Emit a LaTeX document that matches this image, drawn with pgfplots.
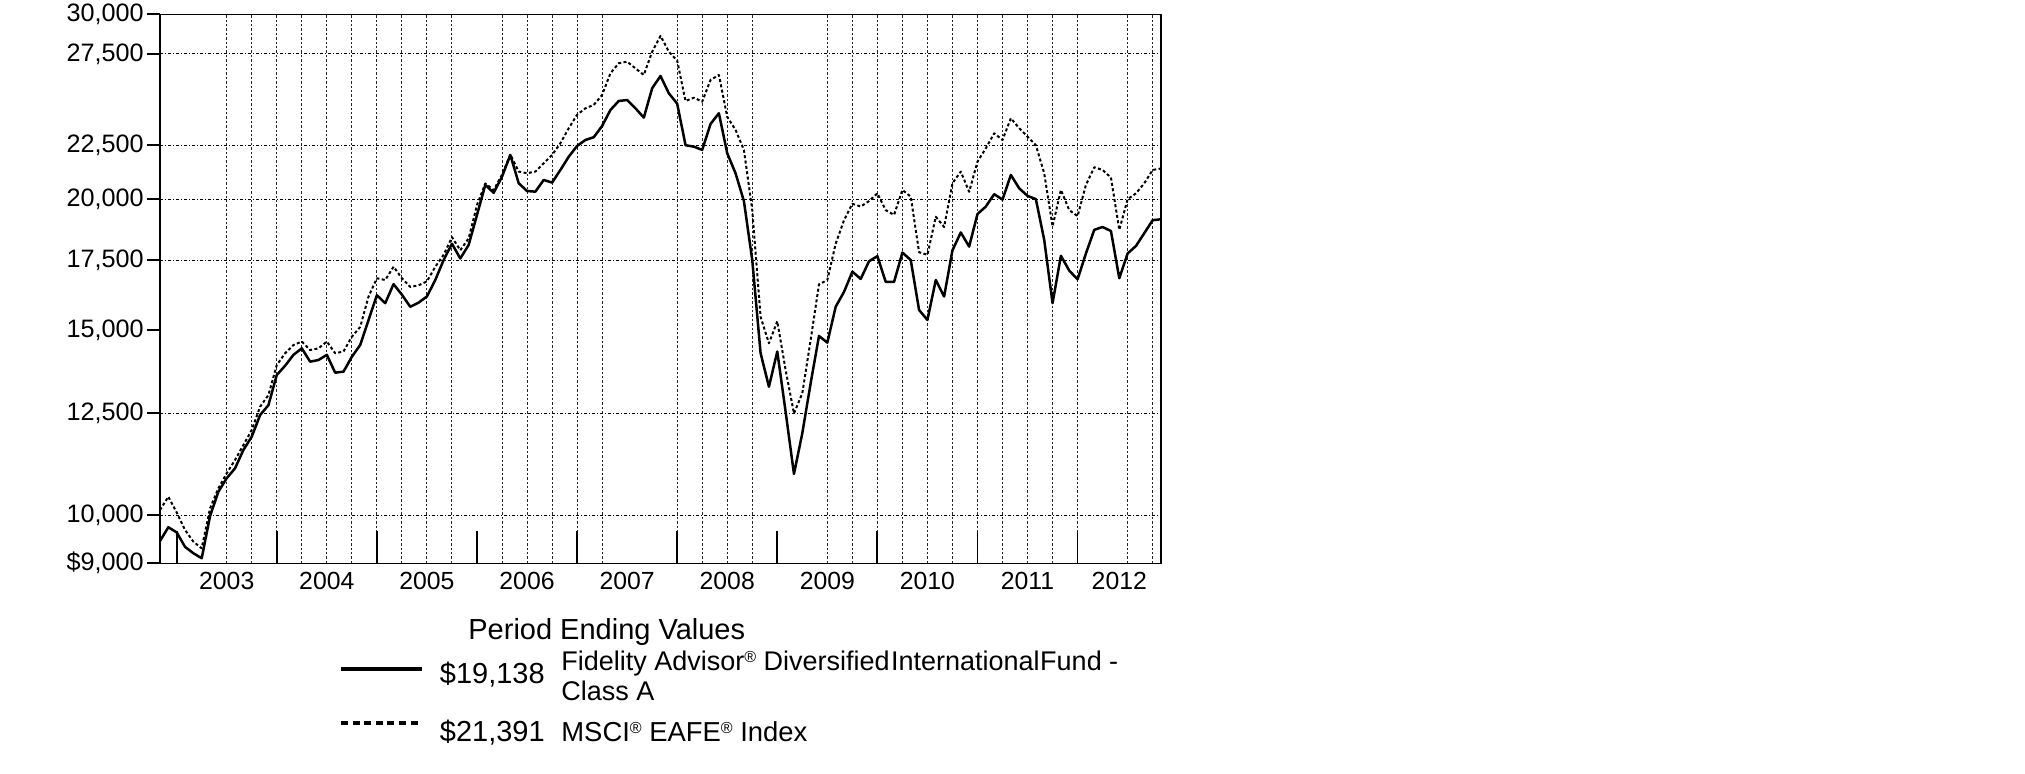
\documentclass[border=0pt]{standalone}
\usepackage{pgfplots}
\pgfplotsset{compat=1.18}
\usepackage{pgfplotstable}
\usepackage{fontspec}
\setmainfont{Liberation Sans}
\newcommand{\reg}{\raisebox{0.55ex}{\fontsize{8}{8}\selectfont ®}}

\pgfplotstableread{
m fund idx
0 9450 10115
1 9740 10415
2 9630 10060
3 9330 9682
4 9200 9436
5 9100 9300
6 9980 10150
7 10530 10610
8 10845 10965
9 11085 11290
10 11540 11665
11 11880 12055
12 12456 12685
13 12730 13016
14 13600 13900
15 13880 14265
16 14215 14525
17 14418 14635
18 14004 14365
19 14055 14418
20 14215 14635
21 13670 14265
22 13700 14320
23 14155 14792
24 14525 15110
25 15345 16155
26 16200 16815
27 15920 16750
28 16600 17245
29 16220 16815
30 15795 16500
31 15940 16555
32 16155 16700
33 16750 17245
34 17500 17700
35 18140 18400
36 17560 17880
37 18090 18355
38 19320 19745
39 20635 20700
40 20280 20400
41 21010 21100
42 22035 22050
43 20710 21245
44 20360 21170
45 20330 21245
46 20860 21640
47 20740 22035
48 21320 22610
49 21950 23365
50 22475 24065
51 22770 24410
52 22910 24590
53 23480 25135
54 24320 26360
55 24805 26945
56 24855 27040
57 24410 26640
58 23915 26260
59 25505 27635
60 26200 28610
61 25225 27635
62 24660 27100
63 22510 24800
64 22440 24980
65 22280 24767
66 23585 25975
67 24145 26260
68 22115 23955
69 21165 23277
70 19915 22280
71 17500 19527
72 14265 15450
73 13255 14580
74 14320 15300
75 12545 13752
76 10947 12500
77 11970 13066
78 13357 14686
79 14815 16590
80 14600 16750
81 15795 18140
82 16320 19100
83 17060 19800
84 16790 19680
85 17455 19915
86 17650 20255
87 16680 19527
88 16680 19320
89 17790 20410
90 17500 20107
91 15684 17805
92 15345 17700
93 16750 19245
94 16155 18815
95 17880 20710
96 18590 21245
97 18025 20325
98 19360 21713
99 19680 22360
100 20220 23105
101 19980 22770
102 21090 23884
103 20480 23365
104 20143 22938
105 20000 22510
106 18290 21165
107 15920 18840
108 17665 20410
109 17100 19527
110 16775 19270
111 17755 20635
112 18700 21450
113 18815 21320
114 18650 20970
115 16815 18700
116 17755 20000
117 18050 20255
118 18565 20710
119 19100 21320
120 19138 21391
}\data

\begin{document}
\begin{tikzpicture}
\path[use as bounding box] (0,0) rectangle (1012.5pt,386.5pt);
\begin{axis}[
  at={(80pt,104.85pt)}, anchor=south west,
  scale only axis, width=500.5pt, height=274.5pt,
  xmin=0, xmax=120,
  ymode=log, ymin=9000, ymax=30000,
  axis line style={line width=0.7pt},
  xtick={8,20,32,44,56,68,80,92,104,115},
  xticklabels={2003,2004,2005,2006,2007,2008,2009,2010,2011,2012},
  xtick style={draw=none},
  xticklabel style={font=\fontsize{12.4}{14}\selectfont, inner sep=0pt, anchor=north, yshift=2pt},
  ytick={9000,10000,12500,15000,17500,20000,22500,27500,30000},
  yticklabels={{\$9,000},{10,000},{12,500},{15,000},{17,500},{20,000},{22,500},{27,500},{30,000}},
  ytick pos=left,
  tick align=outside,
  major tick length=6.5pt,
  ytick style={line width=1pt, black},
  yticklabel style={font=\fontsize{12.6}{14}\selectfont, inner sep=0pt, anchor=east, xshift=-1.5pt},
  clip=false,
]
\pgfplotsinvokeforeach{8,11,14,17,20,23,26,29,32,35,41,44,47,50,53,62,65,68,71,80,83,86,89,92,95,98,101,104,107,110,116,119}{
  \draw[black!85, line width=0.5pt, dash pattern=on 1.2pt off 1pt] (axis cs:#1,9000) -- (axis cs:#1,30000);
}
\pgfplotsinvokeforeach{10000,12500,17500,20000,22500,27500}{
  \draw[black, line width=0.5pt, dash pattern=on 1.5pt off 1pt on 0.5pt off 1pt] (axis cs:0,#1) -- (axis cs:120,#1);
}
\pgfplotsinvokeforeach{2,14,26,38,50,62,74,86,98,110}{
  \draw[black, line width=0.9pt] (axis cs:#1,9000) -- (axis cs:#1,9654);
}
\addplot[black, line width=1pt, line join=round, dash pattern=on 1.5pt off 1.2pt] table[x=m,y=idx]{\data};
\addplot[black, line width=1.25pt, line join=round] table[x=m,y=fund]{\data};
\end{axis}
% legend
\node[anchor=base west, inner sep=0pt, font=\fontsize{14.5}{16}\selectfont] at (234pt,67pt) {Period Ending Values};
\draw[black, line width=1.6pt] (170.5pt,52pt) -- (211pt,52pt);
\node[anchor=base west, inner sep=0pt, font=\fontsize{14.5}{16}\selectfont] at (219.75pt,45pt) {\$19,138};
\node[anchor=base west, inner sep=0pt, font=\fontsize{13.5}{15}\selectfont] at (280.5pt,51.5pt) {Fidelity Advisor\reg{} Diversified\hspace{0.05em}International\hspace{0.02em}Fund -};
\node[anchor=base west, inner sep=0pt, font=\fontsize{13.5}{15}\selectfont] at (280.5pt,36.5pt) {Class A};
\draw[black, line width=1.6pt, dash pattern=on 3.5pt off 2.3pt] (170.5pt,25pt) -- (211pt,25pt);
\node[anchor=base west, inner sep=0pt, font=\fontsize{14.5}{16}\selectfont] at (219.75pt,16pt) {\$21,391};
\node[anchor=base west, inner sep=0pt, font=\fontsize{13.7}{15}\selectfont] at (280.5pt,16pt) {MSCI\reg{} EAFE\reg{} Index};
\end{tikzpicture}
\end{document}
